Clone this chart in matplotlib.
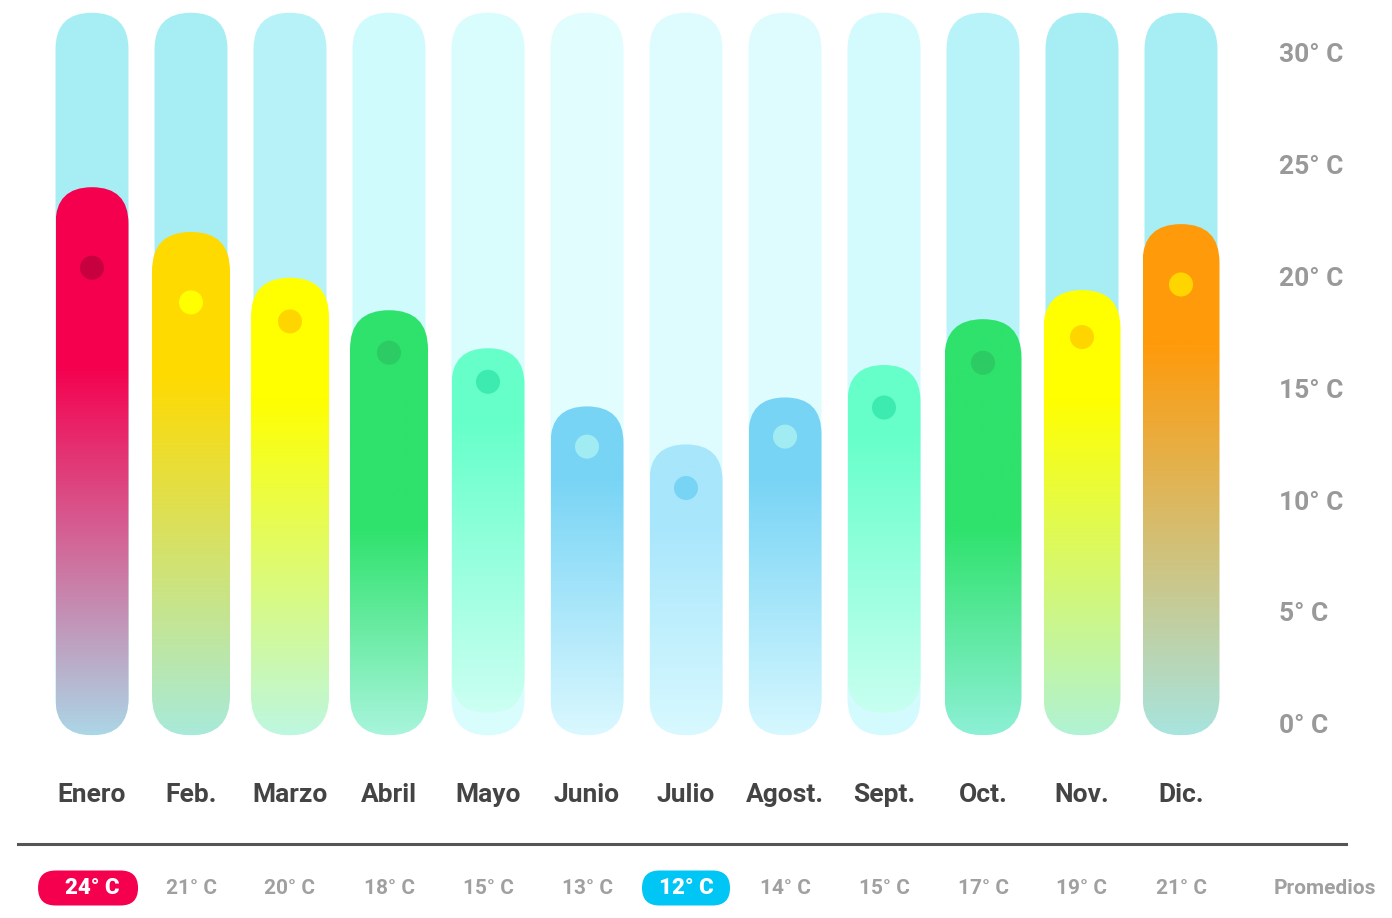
import numpy as np
import matplotlib
matplotlib.use("Agg")
import matplotlib.pyplot as plt
from matplotlib.patches import FancyBboxPatch
from matplotlib.colors import to_rgb

plt.rcParams["font.family"] = ["Roboto", "DejaVu Sans"]

# ------------------------------------------------------------------
# data
months = ["Enero", "Feb.", "Marzo", "Abril", "Mayo", "Junio",
          "Julio", "Agost.", "Sept.", "Oct.", "Nov.", "Dic."]
maxima = [24.0, 22.0, 19.95, 18.5, 16.8, 14.2, 12.5, 14.6, 16.05, 18.1, 19.4, 22.35]
medias = [20.4, 18.85, 18.0, 16.6, 15.3, 12.4, 10.55, 12.85, 14.15, 16.15, 17.3, 19.65]
bases = [-0.5, -0.5, -0.5, -0.5, 0.5, -0.5, -0.5, -0.5, 0.5, -0.5, -0.5, -0.5]
promedios = [24, 21, 20, 18, 15, 13, 12, 14, 15, 17, 19, 21]
highlight = {0: "#F5004F", 6: "#00C6F5"}
yticks = [0, 5, 10, 15, 20, 25, 30]
scale_top, scale_bottom = 31.8, -0.5

# styles
bg_colors = ["#A6EEF4", "#A6EEF4", "#B6F2F8", "#CFFBFD", "#D9FCFD", "#E2FDFE",
             "#DEFCFD", "#DEFCFD", "#D3FAFC", "#B8F3F9", "#A6EEF4", "#A6EEF4"]
top_colors = ["#F5004F", "#FFDA00", "#FFFF00", "#2EE26C", "#66FFCA", "#78D4F5",
              "#A8E6FC", "#78D4F5", "#66FFCA", "#2EE26C", "#FFFF00", "#FF9A0A"]
bottom_colors = ["#ACD6E6", "#A8EAD9", "#BDF7E0", "#A8F5DC", "#CCFFF2", "#DAF8FF",
                 "#D8F9FF", "#D6F8FF", "#C8FFF0", "#8DF0D5", "#B0F2D4", "#A8E4DE"]
solid_until = [16.0, 15.6, 14.5, 8.8, 13.5, 11.0, 9.0, 11.0, 13.0, 8.8, 14.5, 17.0]
dot_colors = ["#C70040", "#FFFF00", "#FFD500", "#2CCB63", "#3DEBB0", "#A0ECF2",
              "#78D4F5", "#A0ECF2", "#3DEBB0", "#2CCB63", "#FFD500", "#FFD500"]
fg_width_px = [73, 78, 78, 78, 73, 73, 73, 73, 73, 77, 77, 77]

# ------------------------------------------------------------------
W, H, DPI = 1392, 918, 100
fig = plt.figure(figsize=(W / DPI, H / DPI), dpi=DPI)
ax = fig.add_axes([0, 0, 1, 1])
ax.set_axis_off()

x0_px, dx_px = 92.0, 99.0          # first month centre, month spacing
y0_px, dy_px = 724.0, 22.367       # 0 deg position (from top), px per degree
ax.set_xlim(-x0_px / dx_px, (W - x0_px) / dx_px)
ax.set_ylim((y0_px - H) / dy_px, y0_px / dy_px)
ax.set_autoscale_on(False)
aspect = dx_px / dy_px


def pill(xc, y_lo, y_hi, w, r=None, **kw):
    r = w / 2 if r is None else r
    p = FancyBboxPatch((xc - w / 2, y_lo), w, y_hi - y_lo,
                       boxstyle=f"round,pad=0,rounding_size={r}",
                       mutation_aspect=aspect, linewidth=0, **kw)
    ax.add_patch(p)
    return p


xs = np.arange(len(months))
bg_w = 73 / dx_px

for i, x in enumerate(xs):
    # background track
    pill(x, scale_bottom, scale_top, bg_w, facecolor=bg_colors[i], zorder=1)

    # foreground bar with vertical gradient
    w = fg_width_px[i] / dx_px
    clip = pill(x, bases[i], maxima[i], w, facecolor="none", edgecolor="none", zorder=2)
    yy = np.linspace(bases[i], maxima[i], 300)
    t = np.clip((solid_until[i] - yy) / (solid_until[i] - bases[i]), 0, 1)[:, None]
    c_top = np.array(to_rgb(top_colors[i]))
    c_bot = np.array(to_rgb(bottom_colors[i]))
    grad = c_top * (1 - t) + c_bot * t
    im = ax.imshow(grad[:, None, :], origin="lower", aspect="auto", interpolation="bilinear",
                   extent=[x - w / 2, x + w / 2, bases[i], maxima[i]], zorder=2)
    im.set_clip_path(clip)

ax.scatter(xs, medias, s=300, c=dot_colors, linewidths=0, zorder=3)

# month names
for x, m in zip(xs, months):
    ax.text(x, (y0_px - 795) / dy_px, m, ha="center", va="center",
            fontsize=19, fontweight="bold", color="#444444")

# right temperature scale
for v in yticks:
    ax.text((1279 - x0_px) / dx_px, v - 0.1, f"{v}° C", ha="left", va="center",
            fontsize=19, fontweight="bold", color="#999999")

# separator
ax.axhline((y0_px - 844) / dy_px, xmin=18 / W, xmax=1346 / W, color="#555555", lw=2.2)

# averages row
y_row = (y0_px - 888) / dy_px
for i, (x, v) in enumerate(zip(xs, promedios)):
    if i in highlight:
        pw = (100 if i == 0 else 88) / dx_px
        pill(x - (0.04 if i == 0 else 0), y_row - 17.5 / dy_px, y_row + 17.5 / dy_px, pw,
             r=17.5 / dx_px, facecolor=highlight[i], zorder=2)
        ax.text(x, y_row, f"{v}° C", ha="center", va="center", fontsize=16,
                fontweight="black", color="white", zorder=3)
    else:
        ax.text(x, y_row, f"{v}° C", ha="center", va="center", fontsize=15,
                fontweight="bold", color="#A0A0A0")
ax.text((1325 - x0_px) / dx_px, y_row, "Promedios", ha="center", va="center",
        fontsize=15, fontweight="bold", color="#A0A0A0")

fig.savefig("out.png", dpi=DPI)
